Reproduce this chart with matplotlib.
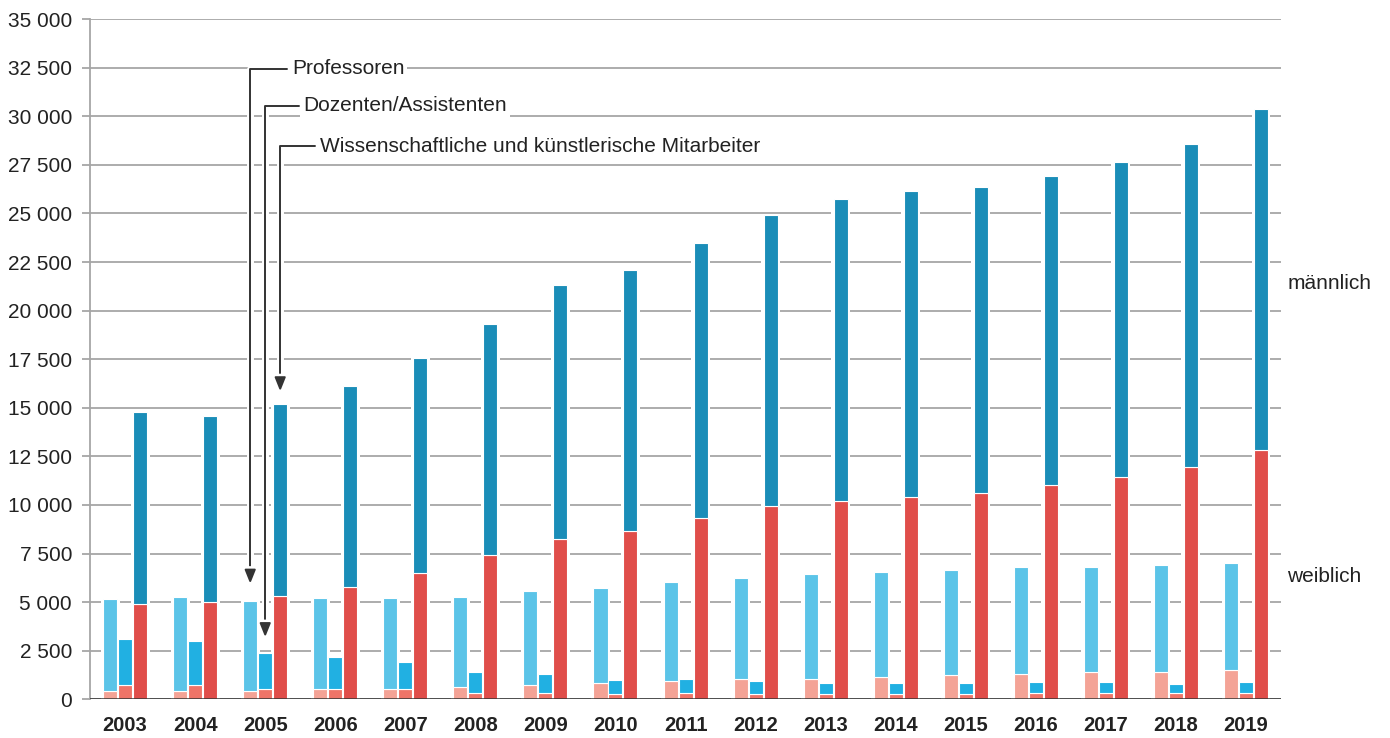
import matplotlib.pyplot as plt
import matplotlib.patheffects as pe
import numpy as np
from matplotlib.ticker import FuncFormatter, MultipleLocator

plt.rcParams['font.family'] = ['Liberation Sans', 'DejaVu Sans']

years = ['2003', '2004', '2005', '2006', '2007', '2008', '2009', '2010', '2011',
         '2012', '2013', '2014', '2015', '2016', '2017', '2018', '2019']

# Professoren
prof_w = [450, 450, 450, 550, 550, 650, 750, 850, 950, 1050, 1050, 1150, 1250, 1300, 1400, 1400, 1500]
prof_m = [4700, 4800, 4600, 4650, 4650, 4600, 4800, 4900, 5100, 5200, 5400, 5400, 5400, 5500, 5400, 5500, 5500]
# Dozenten/Assistenten
doz_w = [750, 750, 550, 550, 550, 350, 350, 250, 350, 250, 250, 250, 250, 300, 300, 300, 300]
doz_m = [2350, 2250, 1850, 1650, 1350, 1050, 950, 750, 700, 700, 600, 600, 600, 600, 600, 500, 600]
# Wissenschaftliche und kuenstlerische Mitarbeiter
wm_w = [4900, 5000, 5300, 5800, 6500, 7400, 8250, 8650, 9350, 9950, 10200, 10400, 10600, 11050, 11450, 11950, 12850]
wm_m = [9900, 9600, 9900, 10300, 11050, 11900, 13050, 13450, 14150, 14950, 15550, 15750, 15750, 15900, 16200, 16600, 17500]

groups = [
    ('Professoren', prof_w, prof_m, '#f4a396', '#5bc4e8'),
    ('Dozenten/Assistenten', doz_w, doz_m, '#ef7468', '#21b0e2'),
    ('Wissenschaftliche und künstlerische Mitarbeiter', wm_w, wm_m, '#e04e4a', '#1a8db8'),
]

fig = plt.figure(figsize=(13.9, 7.38), dpi=100)
ax = fig.add_axes([0.0648, 0.0524, 0.8568, 0.9218])

x = np.arange(len(years))
offsets = [-0.214, 0.0, 0.214]
width = 0.2
grid_col = '#a6a6a6'
text_col = '#222222'

for (name, w, m, cw, cm), off in zip(groups, offsets):
    w = np.array(w)
    m = np.array(m)
    # weisser Rand, damit die Gitterlinien an den Balken unterbrochen sind
    ax.bar(x + off, w + m, width=width + 0.07, color='white', zorder=2, linewidth=0)
    ax.bar(x + off, w, width=width, color=cw, edgecolor='white', linewidth=0.8, zorder=3)
    ax.bar(x + off, m, bottom=w, width=width, color=cm, edgecolor='white', linewidth=0.8, zorder=3)

ax.set_xlim(-0.5, len(years) - 0.5)
ax.set_ylim(0, 35000)
ax.yaxis.set_major_locator(MultipleLocator(2500))
ax.yaxis.set_major_formatter(FuncFormatter(lambda v, p: '{:,.0f}'.format(v).replace(',', ' ')))
ax.grid(axis='y', color=grid_col, linewidth=1.3, zorder=1)
ax.set_axisbelow(True)
ax.tick_params(axis='y', length=6, width=1.3, color=grid_col, pad=7, labelsize=15, labelcolor=text_col)
ax.set_xticks(x)
ax.set_xticklabels(years, fontsize=14.5, fontweight='bold', color=text_col)
ax.tick_params(axis='x', length=0, pad=12)

for s in ['top', 'right', 'bottom']:
    ax.spines[s].set_visible(False)
ax.spines['left'].set_color(grid_col)
ax.spines['left'].set_linewidth(1.3)
ax.axhline(0, color='#333333', linewidth=1.8, zorder=6)

# Beschriftungen mit Pfeilen (Jahr 2005)
i = years.index('2005')
labels = [
    ('Professoren', prof_w[i] + prof_m[i] + 900, 32450, 0.38, offsets[0]),
    ('Dozenten/Assistenten', doz_w[i] + doz_m[i] + 800, 30550, 0.54, offsets[1]),
    ('Wissenschaftliche und künstlerische Mitarbeiter', wm_w[i] + wm_m[i] + 650, 28450, 0.78, offsets[2]),
]
for txt, tip, ty, tx, off in labels:
    ann = ax.annotate(txt, xy=(i + off, tip), xytext=(i + tx, ty),
                      ha='left', va='center', fontsize=15, color=text_col, zorder=7,
                      bbox=dict(boxstyle='square,pad=0.15', fc='white', ec='none'),
                      arrowprops=dict(arrowstyle='-|>,head_length=0.55,head_width=0.22',
                                      connectionstyle='angle,angleA=0,angleB=90,rad=0',
                                      color='#333333', lw=1.4, shrinkA=1, shrinkB=0))
    ann.arrow_patch.set_path_effects([pe.Stroke(linewidth=5, foreground='white'), pe.Normal()])
    ann.arrow_patch.set_zorder(5)

ax.text(16.59, 21400, 'männlich', ha='left', va='center', fontsize=15, color=text_col, clip_on=False)
ax.text(16.59, 6300, 'weiblich', ha='left', va='center', fontsize=15, color=text_col, clip_on=False)

fig.savefig('out.png', dpi=100)
